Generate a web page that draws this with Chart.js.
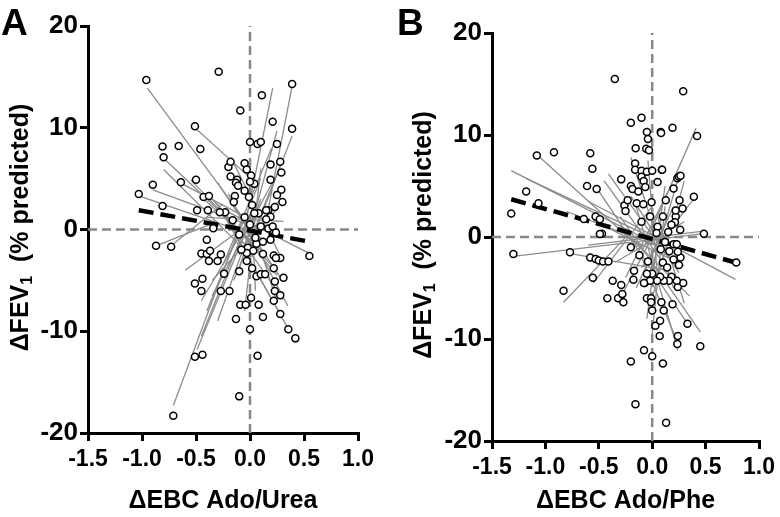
<!DOCTYPE html>
<html>
<head>
<meta charset="utf-8">
<script src="https://cdn.jsdelivr.net/npm/chart.js@4.4.1/dist/chart.umd.min.js"></script>
<style>
  html, body { margin: 0; padding: 0; background: #fff; }
  #wrap { position: relative; width: 780px; height: 517px; }
  canvas { position: absolute; top: 0; }
</style>
</head>
<body>
<div id="wrap">
  <canvas id="chartA" width="390" height="517" style="left:0"></canvas>
  <canvas id="chartB" width="390" height="517" style="left:390px"></canvas>
</div>
<script>
// tick labels
const xTicks = [-1.5, -1.0, -0.5, 0, 0.5, 1.0];
const yTicks = [-20, -10, 0, 10, 20];

// panel A: individual points [ΔEBC Ado/Urea, ΔFEV1]
const pointsA = [
  [-0.96,14.7],[-0.29,15.5],[0.39,14.3],[0.11,13.2],[-0.09,11.7],[0.21,10.6],[0.39,9.9],[-0.51,10.15],
  [-0.81,8.15],[-0.66,8.2],[-0.46,7.9],[-0.80,7.1],[0.00,8.6],[0.07,8.4],[0.10,8.6],[0.25,8.4],
  [-0.90,4.4],[-1.03,3.5],[-0.81,2.3],[-0.64,4.65],[-0.50,4.9],[-0.20,6.15],[-0.18,6.65],[-0.05,6.5],
  [-0.03,5.9],[-0.18,5.2],[-0.12,4.9],[-0.13,4.6],[-0.11,4.3],[0.01,5.3],[0.04,4.5],[0.00,4.7],
  [-0.05,3.8],[-0.01,3.2],[-0.14,3.3],[-0.15,2.7],[0.19,6.4],[0.28,6.65],[0.29,5.6],[0.19,4.9],
  [0.29,3.9],[0.25,3.4],[0.30,2.7],[0.23,2.2],[0.17,1.9],[0.08,1.6],[0.04,1.6],[0.15,1.9],
  [-0.43,3.2],[-0.38,3.3],[-0.49,1.9],[-0.39,1.9],[-0.23,1.7],[-0.28,1.7],[-0.34,0.13],[-0.16,0.9],
  [0.17,0.1],[0.21,0.3],[0.24,-0.3],[0.19,1.25],[0.15,1.0],[0.19,-1.0],[-0.40,-1.0],[-0.87,-1.6],[-0.73,-1.7],
  [0.55,-2.6],[-0.45,-2.35],[-0.40,-2.4],[-0.37,-2.1],[-0.27,-2.45],[0.12,-2.4],[0.22,-2.55],[0.28,-2.8],[0.24,-2.8],
  [-0.02,-1.8],[0.03,-2.1],[0.06,-1.4],[-0.03,-2.3],[-0.38,-3.1],[-0.30,-3.1],[-0.03,-3.1],
  [-0.51,-5.3],[-0.44,-4.85],[-0.45,-6.05],[-0.24,-4.35],[-0.27,-6.05],[-0.19,-6.05],[-0.10,-4.1],
  [0.02,-3.8],[0.06,-4.6],[0.10,-4.4],[0.14,-4.4],[0.22,-3.8],[0.23,-5.1],[0.31,-4.75],[0.23,-6.05],
  [0.28,-6.45],[0.22,-7.0],[0.28,-8.3],[0.01,-6.7],[-0.09,-7.4],[-0.04,-7.4],[0.08,-7.4],[-0.13,-8.8],
  [0.12,-8.6],[0.00,-9.8],[0.355,-9.8],[0.42,-10.7],[-0.51,-12.5],[-0.44,-12.3],[0.07,-12.4],[-0.10,-16.4],[-0.71,-18.3],
  [0.00,0.5],[0.05,-0.8],[-0.05,1.2],[0.10,0.3],[-0.10,-0.5],[0.02,2.4],[0.12,-1.2],[-0.08,-2.0]
];
// panel A: per-subject regression lines [x1, y1, x2, y2]
const linesA = [
  [-0.95,13.9,0.05,-0.5],[-0.49,9.8,0.02,4.9],[-0.80,7.0,0.05,-1.5],[-0.80,5.9,-0.05,-2.0],
  [-1.03,3.3,0.10,-0.8],[-0.90,3.9,-0.05,0.6],[-0.65,4.6,0.00,1.0],[-0.45,3.2,0.15,-2.5],
  [-0.10,-2.5,0.21,13.9],[0.15,1.0,0.39,14.1],[0.00,-1.5,0.39,9.2],[-0.10,-4.0,0.25,9.7],
  [-0.15,-5.0,0.29,6.5],[-0.71,-17.3,-0.05,1.5],[-0.49,-11.8,0.00,0.8],[-0.45,-7.0,0.05,2.0],
  [-0.30,-9.0,0.10,3.0],[-0.20,0.8,0.34,-9.5],[-0.30,2.5,0.29,-8.5],[-0.25,1.5,0.31,-6.9],
  [-0.20,1.7,0.54,-2.3],[-0.87,-1.6,-0.30,0.8],[-0.72,-1.5,-0.25,2.5],[-0.40,1.2,0.31,0.8],
  [-0.30,4.6,0.30,-5.0],[-0.35,-6.5,0.20,4.5],[0.00,6.0,0.05,-6.0],[-0.60,-4.0,0.30,3.0],
  [0.06,-0.6,0.25,-7.2],[-0.20,3.5,0.35,-7.5],[-0.55,4.9,0.20,-3.5],[-0.35,3.0,0.25,-4.5],
  [-0.45,-10.5,0.02,2.0],[-0.40,-8.0,0.10,5.0],[-0.25,-3.5,0.20,8.0],[-0.15,6.5,0.30,-3.0],
  [-0.05,-8.0,0.10,6.0],[-0.35,-5.0,0.25,2.0]
];
// panel A: overall fit
const fitA = [[-1.03,1.9],[0.55,-1.2]];

// panel B: individual points [ΔEBC Ado/Phe, ΔFEV1]
const pointsB = [
  [-0.35,15.5],[-0.20,11.2],[-0.10,11.7],[-0.05,10.3],[0.08,10.3],[-0.04,9.6],[-0.155,8.7],[-0.056,8.65],
  [-0.03,8.5],[-1.08,8.0],[-0.92,8.3],[-0.58,8.2],[-0.56,6.7],[-0.16,7.2],[-0.16,6.6],[-0.10,6.5],
  [-0.05,6.4],[0.00,6.5],[0.09,6.6],[-0.10,5.9],[-0.08,5.5],[-0.065,4.9],[0.05,5.4],[-0.29,5.65],
  [-0.61,5.0],[-0.52,4.7],[-0.20,5.0],[-0.185,4.7],[-0.13,4.45],[-1.18,4.45],[-1.32,2.3],[-1.065,3.3],
  [-0.145,3.3],[-0.083,3.2],[-0.006,3.4],[-0.26,3.1],[-0.25,2.55],[-0.23,3.6],[-0.64,1.76],[-0.53,2.0],
  [-0.49,1.74],[0.127,3.6],[-0.47,0.33],[0.29,14.3],[0.083,10.2],[0.19,10.7],[0.42,9.9],[0.093,6.6],
  [0.235,5.75],[0.25,5.9],[0.265,6.0],[0.20,4.75],[0.39,3.95],[0.256,3.6],[0.284,2.8],[0.22,2.0],
  [0.213,1.45],[0.262,0.7],[0.484,0.33],[-1.30,-1.67],[-0.77,-1.5],[-0.58,-2.0],[-0.53,-2.16],[-0.50,-2.3],
  [-0.46,-2.4],[-0.41,-2.4],[-0.83,-5.26],[-0.556,-4.0],[-0.37,-4.3],[-0.29,-4.7],[-0.42,-6.0],[-0.32,-6.0],
  [-0.28,-5.6],[-0.27,-6.4],[-0.20,-1.0],[-0.17,-3.3],[-0.176,-4.2],[-0.07,-4.5],[-0.05,-6.0],[-0.01,-6.0],
  [-0.01,-6.4],[0.00,-7.2],[0.086,-6.4],[0.108,-7.2],[0.19,-6.6],[0.03,-8.7],[0.074,-8.2],[0.07,-9.7],
  [0.24,-9.7],[0.235,-10.5],[0.33,-8.5],[0.45,-10.7],[-0.077,-11.1],[0.00,-11.7],[-0.20,-12.2],[0.10,-12.4],
  [-0.157,-16.4],[0.13,-18.2],[0.787,-2.5],[0.265,-2.0],[0.24,-1.45],[0.25,-2.75],[0.24,-4.9],[0.29,-4.5],
  [0.23,-4.3],[0.16,-1.4],[0.20,-0.7],[0.23,-0.7],[0.18,-3.9],[0.157,-4.3],[0.108,-4.3],[0.074,-3.9],
  [0.046,-4.3],[0.00,-3.6],[-0.05,-3.6],[-0.02,-4.3],[-0.077,-4.5],[-0.04,-2.4],[-0.49,0.3],
  [0.05,1.0],[0.10,2.0],[0.15,0.5],[0.12,-0.5],[0.08,-1.2],[0.18,1.2],[-0.02,2.0],[0.10,-2.5],
  [0.14,-3.0],[0.20,-2.2],[0.04,0.4],[-0.10,1.5],[-0.12,-1.8],[0.22,2.6]
];
// panel B: per-subject regression lines [x1, y1, x2, y2]
const linesB = [
  [-1.32,6.5,0.05,-0.8],[-1.18,5.75,0.05,-0.3],[-1.05,7.8,-0.10,-1.2],[-1.30,-1.9,0.46,0.3],
  [-0.83,-6.4,-0.20,0.5],[-0.78,-1.6,0.10,-3.2],[-0.60,3.5,0.78,-4.15],[-0.30,2.0,0.45,-9.3],
  [-0.15,3.0,0.24,-11.1],[-0.50,4.5,0.33,-8.5],[-0.10,-1.5,0.41,10.65],[-0.20,7.8,0.20,-5.0],
  [-0.04,7.5,0.05,-4.0],[-0.41,6.2,0.15,-2.0],[-0.55,-4.5,0.00,3.0],[-0.30,-6.0,0.10,2.0],
  [-0.15,-5.0,0.20,3.0],[-0.60,-0.8,0.50,0.6],[0.00,-6.0,0.30,5.5],[-0.10,-3.0,0.40,3.9],
  [-0.80,2.5,0.20,-1.5],[-0.30,1.0,0.35,-5.8],[-0.10,-2.0,0.25,-10.6],[-0.45,5.5,0.10,-2.5],
  [0.00,-3.0,0.25,6.0],[-0.55,1.6,0.30,-2.8],[-0.25,-4.0,0.15,4.5],[0.05,2.0,0.30,-6.5],
  [-0.05,-8.0,0.12,5.0],[-0.20,4.0,0.25,-3.5],[-0.35,-2.5,0.30,1.5],[0.00,-9.5,0.12,3.0]
];
// panel B: overall fit
const fitB = [[-1.32,3.7],[0.78,-2.5]];

const FONT = "'Liberation Sans', Arial, Helvetica, sans-serif";

const panelText = {
  id: 'panelText',
  afterDraw(chart, args, o) {
    const ctx = chart.ctx, a = chart.chartArea;
    ctx.save();
    ctx.fillStyle = '#000';
    // panel letter
    ctx.font = 'bold 37px ' + FONT;
    ctx.textAlign = 'left';
    ctx.textBaseline = 'alphabetic';
    ctx.fillText(o.letter, o.letterX, 35);
    // x title
    ctx.font = 'bold 25px ' + FONT;
    ctx.textAlign = 'center';
    ctx.textBaseline = 'middle';
    ctx.fillText(o.xTitle, (a.left + a.right) / 2, 501);
    // y title with subscript
    ctx.translate(o.yTitleX, (a.top + a.bottom) / 2 - 2);
    ctx.rotate(-Math.PI / 2);
    ctx.textAlign = 'left';
    const big = 'bold 25px ' + FONT, small = 'bold 16px ' + FONT;
    const p1 = '\u0394FEV', p2 = '1', p3 = '  (% predicted)';
    ctx.font = big; const w1 = ctx.measureText(p1).width, w3 = ctx.measureText(p3).width;
    ctx.font = small; const w2 = ctx.measureText(p2).width;
    let x = -(w1 + w2 + w3) / 2;
    ctx.font = big; ctx.fillText(p1, x, 0); x += w1;
    ctx.font = small; ctx.fillText(p2, x, 7); x += w2;
    ctx.font = big; ctx.fillText(p3, x, 0);
    ctx.restore();
  }
};

function makePanel(id, points, lines, fit, txt, box) {
  const datasets = [];
  datasets.push({
    type: 'scatter',
    data: points.map(p => ({ x: p[0], y: p[1] })),
    pointRadius: 3.5,
    pointBorderWidth: 1.5,
    pointBorderColor: '#000',
    pointBackgroundColor: '#fff'
  });
  datasets.push({
    type: 'line',
    data: fit.map(p => ({ x: p[0], y: p[1] })),
    borderColor: '#000',
    borderWidth: 4.5,
    borderDash: [15, 7],
    pointRadius: 0
  });
  lines.forEach(s => {
    datasets.push({
      type: 'line',
      data: [{ x: s[0], y: s[1] }, { x: s[2], y: s[3] }],
      borderColor: '#8c8c8c',
      borderWidth: 1.3,
      pointRadius: 0
    });
  });
  // zero reference lines
  datasets.push({
    type: 'line',
    data: [{ x: 0, y: yTicks[0] }, { x: 0, y: yTicks[yTicks.length - 1] }],
    borderColor: '#888', borderWidth: 2.5, borderDash: [9, 5], pointRadius: 0
  });
  datasets.push({
    type: 'line',
    data: [{ x: xTicks[0], y: 0 }, { x: xTicks[xTicks.length - 1], y: 0 }],
    borderColor: '#888', borderWidth: 2.5, borderDash: [9, 5], pointRadius: 0
  });

  return new Chart(document.getElementById(id), {
    type: 'scatter',
    data: { datasets: datasets },
    plugins: [panelText],
    options: {
      responsive: false,
      animation: false,
      layout: { padding: { top: box.top, right: box.right, left: 0, bottom: 0 } },
      plugins: {
        legend: { display: false },
        tooltip: { enabled: false },
        panelText: txt
      },
      scales: {
        x: {
          type: 'linear',
          min: xTicks[0], max: xTicks[xTicks.length - 1],
          afterBuildTicks: s => { s.ticks = xTicks.map(v => ({ value: v })); },
          afterFit: s => { s.height = box.xh; },
          grid: { drawOnChartArea: false, tickLength: 8, tickWidth: 3, tickColor: '#000', lineWidth: 3 },
          border: { display: true, color: '#000', width: 3 },
          ticks: {
            color: '#000', padding: 5, autoSkip: false, maxRotation: 0,
            font: { family: FONT, size: 23, weight: 'bold' },
            callback: v => v.toFixed(1)
          }
        },
        y: {
          min: yTicks[0], max: yTicks[yTicks.length - 1],
          afterBuildTicks: s => { s.ticks = yTicks.map(v => ({ value: v })); },
          afterFit: s => { s.width = box.left; },
          grid: { drawOnChartArea: false, tickLength: 8, tickWidth: 3, tickColor: '#000', lineWidth: 3 },
          border: { display: true, color: '#000', width: 3 },
          ticks: {
            color: '#000', padding: 2, autoSkip: false,
            font: { family: FONT, size: 26, weight: 'bold' },
            callback: v => String(v)
          }
        }
      }
    }
  });
}

makePanel('chartA', pointsA, linesA, fitA,
  { letter: 'A', letterX: 1, xTitle: '\u0394EBC Ado/Urea', yTitleX: 21 },
  { top: 26, right: 32, left: 88, xh: 84 });
makePanel('chartB', pointsB, linesB, fitB,
  { letter: 'B', letterX: 7, xTitle: '\u0394EBC Ado/Phe', yTitleX: 34 },
  { top: 33, right: 18, left: 102, xh: 76 });
</script>
</body>
</html>
